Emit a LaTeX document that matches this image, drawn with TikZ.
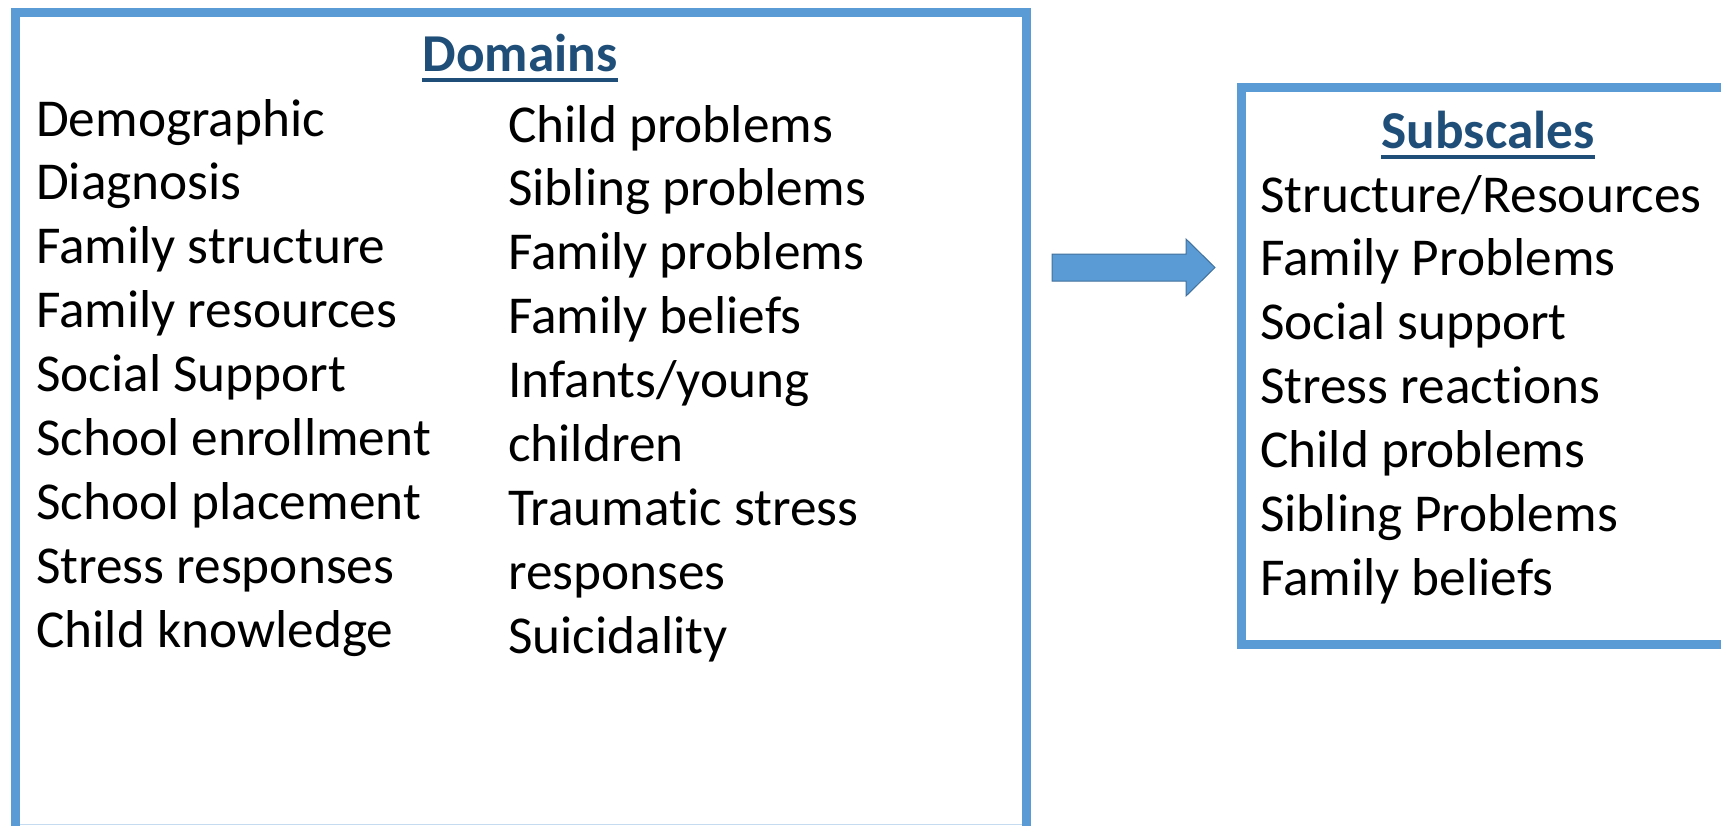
\documentclass[tikz,border=0pt]{standalone}
\usepackage{fontspec}
\setmainfont{Carlito}[RawFeature=-liga]
\definecolor{boxblue}{HTML}{5B9BD5}
\definecolor{arrowedge}{HTML}{41719C}
\definecolor{titleblue}{HTML}{1F4E79}
\definecolor{lightedge}{HTML}{C5DCF0}
\begin{document}
\begin{tikzpicture}[x=1pt,y=-1pt,
  frame/.style={draw=boxblue,line width=9pt},
  item/.style={anchor=base west,inner sep=0pt,font=\fontsize{53.3}{64}\selectfont},
  title/.style={anchor=base,inner sep=0pt,text=titleblue,font=\fontsize{53.3}{64}\selectfont\bfseries},
  uline/.style={draw=titleblue,line width=3.5pt}]
\useasboundingbox (0,0) rectangle (1721,825);
\clip (0,0) rectangle (1721,825);
% left box
\draw[frame] (15.5,840) -- (15.5,12.5) -- (1026,12.5) -- (1026,840);
\draw[draw=lightedge,line width=1.5pt] (20,824.3) -- (1021.5,824.3);
% right box
\draw[frame] (1760,87.5) -- (1241,87.5) -- (1241,644) -- (1760,644);
% arrow
\draw[fill=boxblue,draw=arrowedge,line width=1pt]
  (1052,254) -- (1186,254) -- (1186,239) -- (1215,267.5) -- (1186,296) -- (1186,281) -- (1052,281) -- cycle;
% titles
\node[title] (dom) at (520,71) {Domains};
\draw[uline] ([yshift=-9pt]dom.base west) -- ([yshift=-9pt]dom.base east);
\node[title] (sub) at (1488,148) {Subscales};
\draw[uline] ([yshift=-9pt]sub.base west) -- ([yshift=-9pt]sub.base east);
% left column
\foreach \t [count=\i] in {Demographic,Diagnosis,Family structure,Family resources,Social Support,School enrollment,School placement,Stress responses,Child knowledge}
  \node[item] (l\i) at (36,{136+63.9*(\i-1)}) {\t};
% right column
\foreach \t [count=\i] in {Child problems,Sibling problems,Family problems,Family beliefs,Infants/young,children,Traumatic stress,responses,Suicidality}
  \node[item] (r\i) at (508,{142+63.9*(\i-1)}) {\t};
% subscales
\foreach \t [count=\i] in {Structure/Resources,Family Problems,Social support,Stress reactions,Child problems,Sibling Problems,Family beliefs}
  \node[item] (s\i) at (1260,{212+63.9*(\i-1)}) {\t};
\end{tikzpicture}
\end{document}
